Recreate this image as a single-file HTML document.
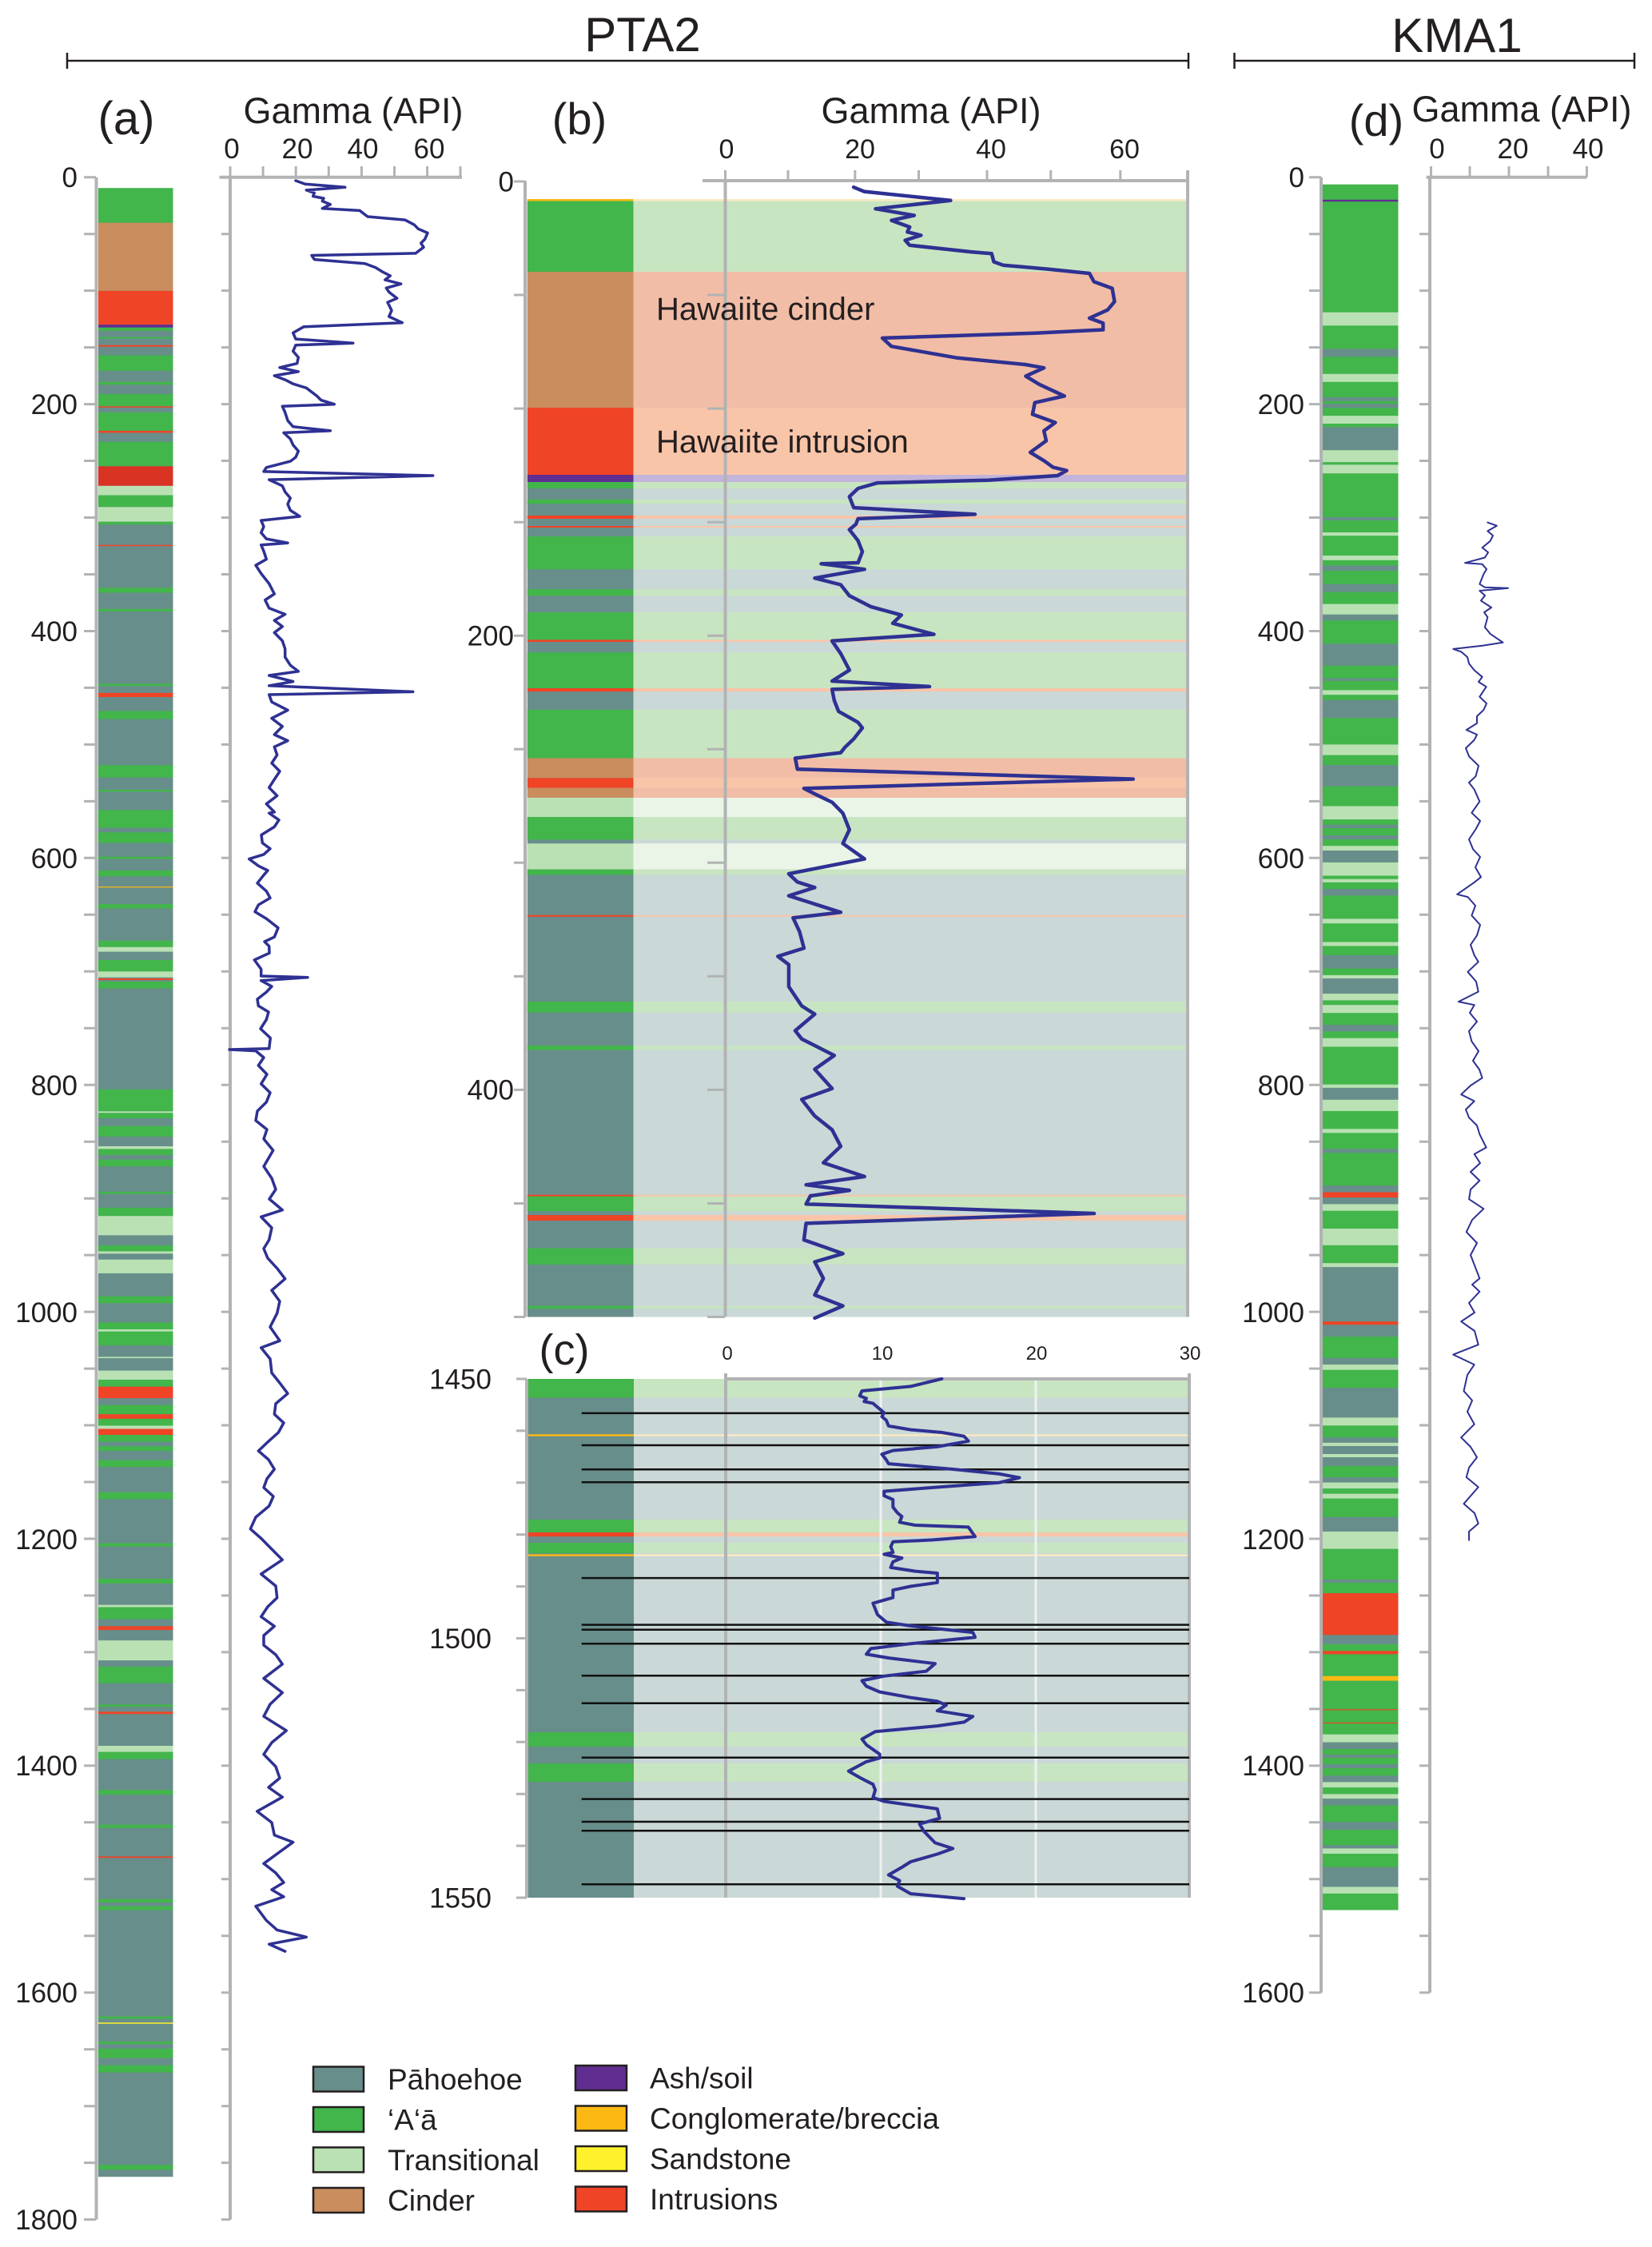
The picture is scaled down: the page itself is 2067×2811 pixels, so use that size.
<!DOCTYPE html>
<html><head><meta charset="utf-8"><style>
html,body{margin:0;padding:0;background:#fff}
svg{display:block}
text{font-family:"Liberation Sans",Arial,sans-serif;fill:#231f20}
.p{fill:#688e8b}.a{fill:#42b54b}.t{fill:#bae1b4}.c{fill:#c98d5e}.s{fill:#5f2e90}.o{fill:#fdb913}.y{fill:#fff22c}.i{fill:#ef4426}.i2{fill:#d93324}
.pp{fill:#cad8d7}.ap{fill:#c8e5c1}.tp{fill:#eaf5e8}.cp{fill:#f2bda6}.sp{fill:#c2b4da}.op{fill:#fde9c1}.ip{fill:#f9c5a9}
.ax{stroke:#b1b3b4;stroke-width:4;fill:none}
.tk{stroke:#b1b3b4;stroke-width:3;fill:none}
.gm{stroke:#2e3192;fill:none;stroke-linejoin:round;stroke-linecap:round}
</style></head><body>
<svg width="2067" height="2811" viewBox="0 0 2067 2811" xmlns="http://www.w3.org/2000/svg">
<rect width="2067" height="2811" fill="#fff"/>

<!-- Titles and brackets -->
<text x="804" y="64" font-size="60" text-anchor="middle">PTA2</text>
<text x="1823" y="65" font-size="60" text-anchor="middle">KMA1</text>
<path d="M84 76H1487M84 66V86M1487 66V86" stroke="#231f20" stroke-width="2.5" fill="none"/>
<path d="M1544.5 76H2045M1544.5 66V86M2045 66V86" stroke="#231f20" stroke-width="2.5" fill="none"/>

<!-- Panel labels -->
<text x="158" y="168" font-size="58" text-anchor="middle">(a)</text>
<text x="725" y="168" font-size="56" text-anchor="middle">(b)</text>
<text x="706" y="1707" font-size="54" text-anchor="middle">(c)</text>
<text x="1722" y="170" font-size="56" text-anchor="middle">(d)</text>

<text x="442" y="154" font-size="45" text-anchor="middle">Gamma (API)</text>
<text x="1165" y="154" font-size="45" text-anchor="middle">Gamma (API)</text>
<text x="1904" y="152" font-size="45" text-anchor="middle">Gamma (API)</text>

<!-- ================= PANEL (a) ================= -->
<g font-size="35" text-anchor="end">
<text x="97" y="234">0</text><text x="97" y="518">200</text><text x="97" y="802">400</text><text x="97" y="1086">600</text><text x="97" y="1370">800</text><text x="97" y="1654">1000</text><text x="97" y="1938">1200</text><text x="97" y="2221">1400</text><text x="97" y="2505">1600</text><text x="97" y="2789">1800</text>
</g>
<g font-size="35" text-anchor="middle">
<text x="290" y="198">0</text><text x="372" y="198">20</text><text x="454" y="198">40</text><text x="537" y="198">60</text>
</g>
<!-- bar a -->
<g transform="translate(123,0)">
<rect class="p" x="0" y="235.3" width="93.5" height="2487.9"/>
<rect class="a" x="0" y="235.3" width="93.5" height="43.4"/>
<rect class="c" x="0" y="278.7" width="93.5" height="85.2"/>
<rect class="i" x="0" y="363.9" width="93.5" height="42.3"/>
<rect class="s" x="0" y="406.2" width="93.5" height="3.6"/>
<rect class="a" x="0" y="409.8" width="93.5" height="4.1"/>
<rect class="a" x="0" y="421.5" width="93.5" height="2"/>
<rect class="i" x="0" y="431.7" width="93.5" height="2"/>
<rect class="a" x="0" y="444.5" width="93.5" height="19.4"/>
<rect class="a" x="0" y="477.7" width="93.5" height="3.5"/>
<rect class="a" x="0" y="493" width="93.5" height="15.3"/>
<rect class="i" x="0" y="508.3" width="93.5" height="1.5"/>
<rect class="a" x="0" y="515.9" width="93.5" height="23"/>
<rect class="i" x="0" y="538.9" width="93.5" height="2.5"/>
<rect class="a" x="0" y="552.7" width="93.5" height="30.6"/>
<rect class="i2" x="0" y="583.3" width="93.5" height="24.5"/>
<rect class="t" x="0" y="607.8" width="93.5" height="11.7"/>
<rect class="a" x="0" y="619.5" width="93.5" height="14.8"/>
<rect class="t" x="0" y="634.3" width="93.5" height="18.4"/>
<rect class="a" x="0" y="652.7" width="93.5" height="3.5"/>
<rect class="i" x="0" y="681.7" width="93.5" height="1.5"/>
<rect class="a" x="0" y="735.3" width="93.5" height="6.1"/>
<rect class="a" x="0" y="761.8" width="93.5" height="3.1"/>
<rect class="a" x="0" y="855.2" width="93.5" height="3"/>
<rect class="i" x="0" y="866.9" width="93.5" height="5.1"/>
<rect class="a" x="0" y="889.4" width="93.5" height="10.2"/>
<rect class="a" x="0" y="957.2" width="93.5" height="15.4"/>
<rect class="a" x="0" y="987.9" width="93.5" height="2.5"/>
<rect class="a" x="0" y="1013.4" width="93.5" height="22.2"/>
<rect class="a" x="0" y="1041.3" width="93.5" height="13.2"/>
<rect class="a" x="0" y="1071.8" width="93.5" height="2.8"/>
<rect class="a" x="0" y="1089" width="93.5" height="7.4"/>
<rect class="o" x="0" y="1109.1" width="93.5" height="1.2"/>
<rect class="a" x="0" y="1130.9" width="93.5" height="5.7"/>
<rect class="a" x="0" y="1176.8" width="93.5" height="8"/>
<rect class="t" x="0" y="1184.8" width="93.5" height="5.8"/>
<rect class="a" x="0" y="1200.9" width="93.5" height="14.4"/>
<rect class="t" x="0" y="1215.3" width="93.5" height="7.4"/>
<rect class="i" x="0" y="1224" width="93.5" height="2"/>
<rect class="a" x="0" y="1228" width="93.5" height="8.5"/>
<rect class="a" x="0" y="1362.8" width="93.5" height="27.5"/>
<rect class="t" x="0" y="1390.3" width="93.5" height="2"/>
<rect class="a" x="0" y="1392.3" width="93.5" height="6.7"/>
<rect class="a" x="0" y="1408.7" width="93.5" height="13.2"/>
<rect class="t" x="0" y="1434" width="93.5" height="3.4"/>
<rect class="a" x="0" y="1437.4" width="93.5" height="7.5"/>
<rect class="a" x="0" y="1450.6" width="93.5" height="8.6"/>
<rect class="a" x="0" y="1490.8" width="93.5" height="2.8"/>
<rect class="a" x="0" y="1510.9" width="93.5" height="10.3"/>
<rect class="t" x="0" y="1521.2" width="93.5" height="24.1"/>
<rect class="a" x="0" y="1557.9" width="93.5" height="7.5"/>
<rect class="t" x="0" y="1565.4" width="93.5" height="2.9"/>
<rect class="t" x="0" y="1575.7" width="93.5" height="17.2"/>
<rect class="a" x="0" y="1621.6" width="93.5" height="8.7"/>
<rect class="a" x="0" y="1654.4" width="93.5" height="8.6"/>
<rect class="t" x="0" y="1663" width="93.5" height="2.8"/>
<rect class="a" x="0" y="1665.8" width="93.5" height="17.3"/>
<rect class="t" x="0" y="1697.4" width="93.5" height="1.7"/>
<rect class="t" x="0" y="1714.6" width="93.5" height="11.5"/>
<rect class="a" x="0" y="1726.1" width="93.5" height="8.6"/>
<rect class="i" x="0" y="1734.7" width="93.5" height="14.4"/>
<rect class="a" x="0" y="1757.7" width="93.5" height="11.5"/>
<rect class="i" x="0" y="1769.2" width="93.5" height="5.7"/>
<rect class="a" x="0" y="1774.9" width="93.5" height="8.6"/>
<rect class="t" x="0" y="1783.5" width="93.5" height="4"/>
<rect class="i" x="0" y="1787.5" width="93.5" height="7.5"/>
<rect class="a" x="0" y="1795" width="93.5" height="8.6"/>
<rect class="a" x="0" y="1809.3" width="93.5" height="5.8"/>
<rect class="a" x="0" y="1826.6" width="93.5" height="8.6"/>
<rect class="a" x="0" y="1866.7" width="93.5" height="8.7"/>
<rect class="a" x="0" y="1930.5" width="93.5" height="4.1"/>
<rect class="a" x="0" y="1975" width="93.5" height="5.9"/>
<rect class="t" x="0" y="2007.7" width="93.5" height="2.9"/>
<rect class="a" x="0" y="2010.6" width="93.5" height="14.9"/>
<rect class="i" x="0" y="2034.4" width="93.5" height="4.7"/>
<rect class="t" x="0" y="2052.2" width="93.5" height="24.9"/>
<rect class="a" x="0" y="2084.9" width="93.5" height="20.7"/>
<rect class="a" x="0" y="2132.4" width="93.5" height="2.9"/>
<rect class="i" x="0" y="2141.3" width="93.5" height="2.9"/>
<rect class="t" x="0" y="2184" width="93.5" height="7.7"/>
<rect class="a" x="0" y="2191.7" width="93.5" height="9"/>
<rect class="a" x="0" y="2239.2" width="93.5" height="6"/>
<rect class="a" x="0" y="2282.6" width="93.5" height="4.2"/>
<rect class="i" x="0" y="2322.4" width="93.5" height="1.8"/>
<rect class="a" x="0" y="2375.8" width="93.5" height="4.2"/>
<rect class="a" x="0" y="2384.7" width="93.5" height="4.8"/>
<rect class="a" x="0" y="2522.5" width="93.5" height="3"/>
<rect class="y" x="0" y="2530.2" width="93.5" height="1.5"/>
<rect class="a" x="0" y="2554" width="93.5" height="3"/>
<rect class="a" x="0" y="2562.9" width="93.5" height="11.8"/>
<rect class="a" x="0" y="2583.6" width="93.5" height="9"/>
<rect class="a" x="0" y="2708.3" width="93.5" height="6"/>
</g>
<!-- axes a -->
<path class="ax" d="M120.5 221.7V2776.7"/>
<path class="tk" d="M105 221.7H120M105 292.7H120M105 363.6H120M105 434.6H120M105 505.6H120M105 576.5H120M105 647.5H120M105 718.5H120M105 789.5H120M105 860.4H120M105 931.4H120M105 1002.4H120M105 1073.3H120M105 1144.3H120M105 1215.3H120M105 1286.2H120M105 1357.2H120M105 1428.2H120M105 1499.2H120M105 1570.1H120M105 1641.1H120M105 1712.1H120M105 1783H120M105 1854H120M105 1925H120M105 1996H120M105 2066.9H120M105 2137.9H120M105 2208.9H120M105 2279.8H120M105 2350.8H120M105 2421.8H120M105 2492.7H120M105 2563.7H120M105 2634.7H120M105 2705.6H120M105 2776.6H120"/>
<path class="ax" d="M274.5 221.7H578M288 221.7V2776.7"/>
<path class="tk" d="M288 208V221.7M329.1 208V221.7M370.2 208V221.7M411.3 208V221.7M452.4 208V221.7M493.5 208V221.7M534.6 208V221.7M576 208V221.7"/>
<path class="tk" d="M277 292.7H288M277 363.6H288M277 434.6H288M277 505.6H288M277 576.5H288M277 647.5H288M277 718.5H288M277 789.5H288M277 860.4H288M277 931.4H288M277 1002.4H288M277 1073.3H288M277 1144.3H288M277 1215.3H288M277 1286.2H288M277 1357.2H288M277 1428.2H288M277 1499.2H288M277 1570.1H288M277 1641.1H288M277 1712.1H288M277 1783H288M277 1854H288M277 1925H288M277 1996H288M277 2066.9H288M277 2137.9H288M277 2208.9H288M277 2279.8H288M277 2350.8H288M277 2421.8H288M277 2492.7H288M277 2563.7H288M277 2634.7H288M277 2705.6H288M277 2776.6H288"/>
<polyline class="gm" stroke-width="3.5" points="370,226 381.7,230.2 431.7,234.3 383.3,237.9 393.3,241.4 391.7,245.5 405,248.1 403.3,251.6 413.3,255.7 403.3,260.8 450,263.4 456.7,268.5 460,271 506.7,275.1 518.3,281.2 523.3,286.3 535,291.4 531.7,299.1 526.7,304.2 530,309.3 523.3,314.4 520,316.9 390,319.5 393.3,324.6 456.7,329.7 470,334.8 478.3,339.9 488.3,345 481.7,350.1 501.7,355.2 483.3,360.3 486.7,365.4 496.7,373.1 485,378.2 490,388.4 486.7,396 503.3,403.7 380,408.8 366.7,416.4 370,424.1 441.7,429.2 370,431.7 366.7,439.4 373.3,447 371.7,454.7 350,459.8 373.3,464.9 343.3,470 356.7,475.1 366.7,480.2 383.3,485.3 396.7,495.5 401.7,500.6 418.3,505.7 353.3,508.3 356.7,515.9 360,526.1 366.7,533.8 413.3,538.9 355,541.4 363.3,549.1 366.7,556.7 373.3,564.4 370,572 363.3,577.1 333.3,584.8 330,589.9 541.7,595 336.7,600.1 353.3,607.8 356.7,615.4 363.3,623.1 360,630.7 363.3,638.4 375,646 326.7,651.1 330,658.8 326.7,666.4 333.3,674.1 360,679.2 326.7,681.7 330,689.4 333.3,699.6 320,707.2 326.7,717.4 336.7,730.2 343.3,743 331.7,750.6 336.7,760.8 356.7,768.5 343.3,776.1 353.3,783.8 343.3,791.4 353.3,801.6 356.7,811.8 356.7,822 363.3,832.2 373.3,839.9 336.7,845 366.7,852.6 336.7,857.8 516.7,865.4 336.7,869 340,878.2 360,888.4 340,898.6 353.3,908.8 343.3,919 360,926.6 343.3,934.3 346.7,944.5 340,954.7 350,964.9 343.3,975.1 336.7,985.3 346.7,995.5 333.3,1005.7 343.3,1015.9 336.7,1017.2 349,1025.8 343.3,1034.4 327,1044.5 328.3,1054.5 338,1061.7 330,1068.9 311.7,1074.6 323.3,1083.2 335,1089 330,1094.7 322,1104.8 333.3,1114.8 338,1123.4 323.3,1132 319,1140.6 333.3,1149.2 348,1160.7 343.3,1172.2 331,1178 336.7,1183.7 337,1192.3 318.3,1200.9 326.7,1212.4 326.7,1221 385,1222.7 326.7,1226.7 340,1234 333.3,1241.1 322,1250 323.3,1258.3 336,1266 333.3,1275.5 326,1287 338.3,1298.5 336.7,1311.7 287,1313 320,1314.6 330,1323 323.3,1332.9 334,1344 326.7,1355.9 338,1367 333.3,1378.8 322,1390 320,1401.8 334,1413 330,1424.8 341.7,1439.1 330,1459.2 340,1474 345,1487.9 337,1500 353.3,1513.7 326.7,1522.3 340,1536 336.7,1551 330,1562 335,1574 347,1587 356.7,1599.8 340,1614.2 350,1628 346.7,1642.9 338,1660 350,1677.3 326.7,1686 338,1700 340,1717.5 350,1730 360,1743.3 345,1756 343.3,1769.2 355,1780 348.3,1792.1 335,1804 323.3,1815.1 336,1826 343.3,1838 334,1850 330,1861 342,1872 336.7,1884 320,1898 313.3,1912.7 326.7,1924.5 340,1938 353.3,1951.3 326.7,1969.1 345,1984 346.7,1998.8 335,2010 326.7,2022.5 343.3,2034.4 330,2046 330,2058.1 345,2070 353.3,2081.9 330,2099.7 353.3,2117.5 338,2132 330,2147.2 358.3,2165 340,2180 330,2194.7 345,2210 350,2224.4 336,2236 353.3,2248.2 321.7,2266 340,2280 343.3,2295.7 366.7,2304.6 330,2331.3 345,2343 355,2355 340,2364 355,2372.9 320,2384.7 333.3,2402.5 346.7,2414.4 383.3,2423.3 336.7,2432.2 356.7,2441.1"/>

<!-- ================= PANEL (b) ================= -->
<g>
<rect class="p" x="659.8" y="250.8" width="132.7" height="1396.7"/>
<rect class="pp" x="792.5" y="250.8" width="693.5" height="1396.7"/>
<rect class="o" x="659.8" y="249" width="132.7" height="2.5"/><rect class="op" x="792.5" y="249" width="693.5" height="2.5"/>
<rect class="a" x="659.8" y="251.5" width="132.7" height="88.5"/><rect class="ap" x="792.5" y="251.5" width="693.5" height="88.5"/>
<rect class="c" x="659.8" y="340" width="132.7" height="170"/><rect class="cp" x="792.5" y="340" width="693.5" height="170"/>
<rect class="i" x="659.8" y="510" width="132.7" height="84"/><rect class="ip" x="792.5" y="510" width="693.5" height="84"/>
<rect class="s" x="659.8" y="594" width="132.7" height="9"/><rect class="sp" x="792.5" y="594" width="693.5" height="9"/>
<rect class="a" x="659.8" y="603" width="132.7" height="8"/><rect class="ap" x="792.5" y="603" width="693.5" height="8"/>
<rect class="a" x="659.8" y="624.8" width="132.7" height="5.5"/><rect class="ap" x="792.5" y="624.8" width="693.5" height="5.5"/>
<rect class="i" x="659.8" y="645" width="132.7" height="4"/><rect class="ip" x="792.5" y="645" width="693.5" height="4"/>
<rect class="i" x="659.8" y="658" width="132.7" height="2"/><rect class="ip" x="792.5" y="658" width="693.5" height="2"/>
<rect class="a" x="659.8" y="671" width="132.7" height="41.2"/><rect class="ap" x="792.5" y="671" width="693.5" height="41.2"/>
<rect class="a" x="659.8" y="737" width="132.7" height="8.3"/><rect class="ap" x="792.5" y="737" width="693.5" height="8.3"/>
<rect class="a" x="659.8" y="766" width="132.7" height="34.4"/><rect class="ap" x="792.5" y="766" width="693.5" height="34.4"/>
<rect class="i" x="659.8" y="800.4" width="132.7" height="2.6"/><rect class="ip" x="792.5" y="800.4" width="693.5" height="2.6"/>
<rect class="a" x="659.8" y="816.2" width="132.7" height="44.8"/><rect class="ap" x="792.5" y="816.2" width="693.5" height="44.8"/>
<rect class="i" x="659.8" y="861" width="132.7" height="4.1"/><rect class="ip" x="792.5" y="861" width="693.5" height="4.1"/>
<rect class="a" x="659.8" y="887.9" width="132.7" height="60.6"/><rect class="ap" x="792.5" y="887.9" width="693.5" height="60.6"/>
<rect class="c" x="659.8" y="948.5" width="132.7" height="24.8"/><rect class="cp" x="792.5" y="948.5" width="693.5" height="24.8"/>
<rect class="i" x="659.8" y="973.3" width="132.7" height="12.3"/><rect class="ip" x="792.5" y="973.3" width="693.5" height="12.3"/>
<rect class="c" x="659.8" y="985.6" width="132.7" height="12.4"/><rect class="cp" x="792.5" y="985.6" width="693.5" height="12.4"/>
<rect class="t" x="659.8" y="998" width="132.7" height="24.1"/><rect class="tp" x="792.5" y="998" width="693.5" height="24.1"/>
<rect class="a" x="659.8" y="1022.1" width="132.7" height="28.3"/><rect class="ap" x="792.5" y="1022.1" width="693.5" height="28.3"/>
<rect class="t" x="659.8" y="1055.2" width="132.7" height="32.4"/><rect class="tp" x="792.5" y="1055.2" width="693.5" height="32.4"/>
<rect class="a" x="659.8" y="1087.6" width="132.7" height="6.9"/><rect class="ap" x="792.5" y="1087.6" width="693.5" height="6.9"/>
<rect class="i" x="659.8" y="1144.7" width="132.7" height="2.1"/><rect class="ip" x="792.5" y="1144.7" width="693.5" height="2.1"/>
<rect class="a" x="659.8" y="1252.9" width="132.7" height="13.7"/><rect class="ap" x="792.5" y="1252.9" width="693.5" height="13.7"/>
<rect class="a" x="659.8" y="1308" width="132.7" height="5.5"/><rect class="ap" x="792.5" y="1308" width="693.5" height="5.5"/>
<rect class="i" x="659.8" y="1494.6" width="132.7" height="2.1"/><rect class="ip" x="792.5" y="1494.6" width="693.5" height="2.1"/>
<rect class="a" x="659.8" y="1496.7" width="132.7" height="18.6"/><rect class="ap" x="792.5" y="1496.7" width="693.5" height="18.6"/>
<rect class="i" x="659.8" y="1520" width="132.7" height="7"/><rect class="ip" x="792.5" y="1520" width="693.5" height="7"/>
<rect class="a" x="659.8" y="1561.4" width="132.7" height="20.6"/><rect class="ap" x="792.5" y="1561.4" width="693.5" height="20.6"/>
<rect class="a" x="659.8" y="1633.7" width="132.7" height="3.5"/><rect class="ap" x="792.5" y="1633.7" width="693.5" height="3.5"/>
</g>
<g font-size="35" text-anchor="end">
<text x="643" y="239.5">0</text><text x="643" y="807.5">200</text><text x="643" y="1375.5">400</text>
</g>
<g font-size="34" text-anchor="middle">
<text x="909" y="198">0</text><text x="1076" y="198">20</text><text x="1240" y="198">40</text><text x="1407" y="198">60</text>
</g>
<path class="ax" d="M657 226V1647.5"/>
<path class="tk" d="M643 227H657M643 369H657M643 511.1H657M643 653.2H657M643 795.2H657M643 937.3H657M643 1079.3H657M643 1221.4H657M643 1363.4H657M643 1505.5H657M643 1647.5H657"/>
<path class="ax" d="M879 226H1486M907.5 226V1647.5M1486 213V1647.5"/>
<path class="tk" d="M907.5 213V226M986 213V226M1069.8 213V226M1149.5 213V226M1235 213V226M1314.7 213V226M1401.8 213V226"/>
<path class="tk" d="M885 369H907M885 511.1H907M885 653.2H907M885 795.2H907M885 937.3H907M885 1079.3H907M885 1221.4H907M885 1363.4H907M885 1505.5H907M885 1647.5H907"/>
<text x="821" y="400" font-size="40">Hawaiite cinder</text>
<text x="821" y="566" font-size="40">Hawaiite intrusion</text>
<polyline class="gm" stroke-width="4.5" points="1068.1,234.2 1078.4,238.4 1081.2,239.6 1189.4,250.8 1095.5,261.2 1143.9,269.5 1115.4,275.7 1138.2,284 1135.3,290.2 1152.4,294.4 1132.5,300.6 1138.2,306.8 1215.1,315.1 1240.7,317.2 1243.5,327.5 1254.9,331.7 1311.9,336.7 1363.1,342 1368.8,352.4 1391.6,360.7 1394.5,377.3 1385.9,387.7 1363.1,398 1380.2,404.2 1380.2,412.5 1294.8,416.7 1104,422.9 1115.4,433.3 1198,447.8 1283.4,456.1 1306.2,460.2 1283.4,470.6 1300.5,480.9 1331.8,495.4 1294.8,503.7 1291.9,518.3 1320.4,528.6 1306.2,539 1309,551.4 1289.1,565.9 1306.2,576.3 1317.6,584.6 1334.6,588.7 1323.2,595 1236.2,600.7 1098,604.1 1073.6,611 1062.8,621.3 1068.2,635.1 1219.9,643.4 1073.6,648.9 1070.9,655.8 1062.8,662.6 1073.6,676.4 1079,690.2 1073.6,704 1027.5,705.3 1081.7,712.2 1019.4,723.2 1051.9,731.5 1062.8,745.3 1089.9,759.1 1127.8,769.4 1117,779.7 1168.5,793.5 1041.1,801.8 1051.9,817.6 1062.8,838.3 1041.1,852 1163,858.9 1041.1,862.4 1043.8,876.1 1049.2,889.9 1073.6,903.7 1079,910.6 1068.2,924.4 1057.3,934.7 1051.9,941.6 995,948.5 997.7,962.2 1417.8,974.6 1005.9,986.3 1019.4,993.2 1041.1,1003.6 1054.6,1017.3 1062.8,1038 1054.6,1055.2 1081.7,1074.5 986.9,1093.1 997.7,1103.4 1019.4,1110.3 986.9,1120.6 1051.9,1141.3 992.3,1148.2 1000.4,1165.4 1005.9,1186.1 973.3,1196.4 986.9,1206.7 986.9,1234.3 1003.1,1258.4 1019.4,1268.7 995,1289.4 1003.1,1299.7 1043.8,1320.4 1019.4,1337.6 1041.1,1361.7 1003.1,1375.4 1019.4,1396.1 1041.1,1413.3 1051.9,1434 1030.2,1454.6 1081.7,1471.9 1008.6,1482.2 1062.8,1489.1 1014,1496 1008.6,1506.3 1369,1518 1008.6,1530.4 1005.9,1551.1 1054.6,1568.3 1019.4,1578.6 1030.2,1599.3 1019.4,1620 1054.6,1633.7 1019.4,1648.9"/>

<!-- ================= PANEL (c) ================= -->
<g>
<rect class="p" x="660" y="1725" width="133" height="649"/>
<rect class="pp" x="793" y="1725" width="693" height="649"/>
<rect class="a" x="660" y="1725" width="133" height="23.5"/><rect class="ap" x="793" y="1725" width="693" height="23.5"/>
<rect class="o" x="660" y="1794.3" width="133" height="2.4"/><rect class="op" x="793" y="1794.3" width="693" height="2.4"/>
<rect class="a" x="660" y="1901" width="133" height="16"/><rect class="ap" x="793" y="1901" width="693" height="16"/>
<rect class="i" x="660" y="1917" width="133" height="5.2"/><rect class="ip" x="793" y="1917" width="693" height="5.2"/>
<rect class="a" x="660" y="1930" width="133" height="13"/><rect class="ap" x="793" y="1930" width="693" height="13"/>
<rect class="o" x="660" y="1944.4" width="133" height="2.4"/><rect class="op" x="793" y="1944.4" width="693" height="2.4"/>
<rect class="a" x="660" y="2167" width="133" height="18"/><rect class="ap" x="793" y="2167" width="693" height="18"/>
<rect class="a" x="660" y="2206" width="133" height="23"/><rect class="ap" x="793" y="2206" width="693" height="23"/>
</g>
<path d="M1102 1725V2374M1296 1725V2374" stroke="#eef2f2" stroke-width="3"/>
<path class="ax" d="M908 1718V2374M908 1725H1488M1488 1718V2374"/>
<path class="ax" d="M659 1725V2374"/>
<path class="tk" d="M646 1725H659M646 1789.9H659M646 1854.8H659M646 1919.7H659M646 1984.6H659M646 2049.5H659M646 2114.4H659M646 2179.3H659M646 2244.2H659M646 2309.1H659M646 2374H659"/>
<g font-size="35" text-anchor="end">
<text x="615" y="1737.5">1450</text><text x="615" y="2062">1500</text><text x="615" y="2386.5">1550</text>
</g>
<g font-size="24" text-anchor="middle">
<text x="910" y="1701">0</text><text x="1104" y="1701">10</text><text x="1297" y="1701">20</text><text x="1489" y="1701">30</text>
</g>
<path d="M727.7 1767.9H1488M727.7 1808H1488M727.7 1838.2H1488M727.7 1854.3H1488M727.7 1974.1H1488M727.7 2032.6H1488M727.7 2038.8H1488M727.7 2056.2H1488M727.7 2096.3H1488M727.7 2130.8H1488M727.7 2198.8H1488M727.7 2250.6H1488M727.7 2279H1488M727.7 2290.3H1488M727.7 2357.3H1488" stroke="#111" stroke-width="2.5"/>
<polyline class="gm" stroke-width="4" points="1178.3,1724.9 1139.5,1734.4 1078.5,1740 1075.7,1746.2 1084,1749.5 1081.2,1753.3 1092.3,1755.6 1100.7,1762.7 1106.2,1767.4 1103.4,1772.1 1109,1776.9 1111.8,1783.9 1139.5,1788.6 1178.3,1792 1206.1,1796.7 1211.7,1802.8 1172.8,1809.9 1117.3,1814.6 1103.4,1819.3 1109,1826.4 1111.8,1831.1 1139.5,1833.5 1195,1838.2 1250.5,1843.9 1275.5,1848.6 1250.5,1854.7 1167.3,1860.9 1106.2,1865.6 1106.2,1871.2 1117.3,1876 1117.3,1885.4 1122.8,1892.5 1128.4,1897.2 1125.6,1904.3 1145,1908 1211.7,1910.4 1217.2,1918.4 1220,1922.2 1167.3,1926.4 1117.3,1928.8 1114.5,1934.9 1117.3,1942 1106.2,1944.4 1128.4,1949.1 1117.3,1953.8 1114.5,1960.9 1145,1965.6 1172.8,1968 1172.8,1979.8 1139.5,1984.5 1117.3,1989.2 1117.3,1998.6 1092.3,2005.7 1095.1,2012.8 1097.9,2019.9 1109,2029.3 1139.5,2034 1217.2,2042.1 1220,2048.2 1139.5,2056.2 1089.6,2062.4 1084,2069.4 1111.8,2074.1 1170,2081.2 1158.9,2090.7 1106.2,2096.8 1078.5,2102.5 1084,2109.5 1100.7,2116.6 1139.5,2123.7 1172.8,2128.4 1183.9,2133.1 1172.8,2140.2 1217.2,2147.3 1206.1,2154.4 1172.8,2159.1 1095.1,2166.2 1078.5,2175.6 1084,2182.7 1100.7,2194.5 1100.7,2199.2 1084,2203.9 1061.8,2215.7 1078.5,2225.2 1092.3,2232.2 1095.1,2239.3 1092.3,2248.8 1106.2,2253.5 1172.8,2262.9 1175.6,2274.7 1150.6,2281.8 1156.2,2291.2 1170,2305.4 1192.2,2312.5 1172.8,2319.5 1139.5,2329 1128.4,2336 1111.8,2345.5 1125.6,2352.6 1122.8,2359.6 1139.5,2369.1 1206.1,2375.2"/>

<!-- ================= PANEL (d) ================= -->
<g font-size="35" text-anchor="end">
<text x="1632" y="234">0</text><text x="1632" y="518">200</text><text x="1632" y="802">400</text><text x="1632" y="1086">600</text><text x="1632" y="1370">800</text><text x="1632" y="1654">1000</text><text x="1632" y="1938">1200</text><text x="1632" y="2221">1400</text><text x="1632" y="2505">1600</text>
</g>
<g font-size="35" text-anchor="middle">
<text x="1798" y="198">0</text><text x="1893" y="198">20</text><text x="1987" y="198">40</text>
</g>
<g transform="translate(1654.7,0)">
<rect class="a" x="0" y="230.7" width="94.8" height="2158.8"/>
<rect class="s" x="0" y="249.8" width="94.8" height="2.4"/>
<rect class="t" x="0" y="390.7" width="94.8" height="16.6"/>
<rect class="p" x="0" y="436.3" width="94.8" height="10"/>
<rect class="t" x="0" y="467.8" width="94.8" height="10"/>
<rect class="p" x="0" y="496.9" width="94.8" height="4.9"/>
<rect class="p" x="0" y="505.1" width="94.8" height="5"/>
<rect class="t" x="0" y="520.1" width="94.8" height="9.9"/>
<rect class="p" x="0" y="534.2" width="94.8" height="29"/>
<rect class="t" x="0" y="563.2" width="94.8" height="14.9"/>
<rect class="t" x="0" y="581.4" width="94.8" height="10.8"/>
<rect class="p" x="0" y="647" width="94.8" height="4"/>
<rect class="t" x="0" y="666" width="94.8" height="4.2"/>
<rect class="t" x="0" y="695" width="94.8" height="5.8"/>
<rect class="p" x="0" y="707.5" width="94.8" height="6.6"/>
<rect class="p" x="0" y="730.7" width="94.8" height="9.9"/>
<rect class="t" x="0" y="755.6" width="94.8" height="13.2"/>
<rect class="p" x="0" y="768.8" width="94.8" height="7.5"/>
<rect class="p" x="0" y="805.3" width="94.8" height="27.4"/>
<rect class="p" x="0" y="848.4" width="94.8" height="3.4"/>
<rect class="t" x="0" y="863.4" width="94.8" height="5.8"/>
<rect class="p" x="0" y="875.8" width="94.8" height="22.4"/>
<rect class="t" x="0" y="931.4" width="94.8" height="13.2"/>
<rect class="p" x="0" y="957.1" width="94.8" height="26.5"/>
<rect class="t" x="0" y="1008.5" width="94.8" height="16.6"/>
<rect class="p" x="0" y="1031.7" width="94.8" height="4.3"/>
<rect class="p" x="0" y="1045" width="94.8" height="5"/>
<rect class="t" x="0" y="1058.2" width="94.8" height="5.8"/>
<rect class="p" x="0" y="1064" width="94.8" height="14.9"/>
<rect class="t" x="0" y="1078.9" width="94.8" height="16.6"/>
<rect class="t" x="0" y="1099.7" width="94.8" height="4.1"/>
<rect class="p" x="0" y="1112.1" width="94.8" height="8.3"/>
<rect class="t" x="0" y="1149.4" width="94.8" height="5.8"/>
<rect class="t" x="0" y="1178.5" width="94.8" height="4.9"/>
<rect class="p" x="0" y="1195" width="94.8" height="16.6"/>
<rect class="t" x="0" y="1219.9" width="94.8" height="4.1"/>
<rect class="p" x="0" y="1224" width="94.8" height="19.1"/>
<rect class="t" x="0" y="1243.1" width="94.8" height="8.3"/>
<rect class="t" x="0" y="1257.2" width="94.8" height="10"/>
<rect class="p" x="0" y="1282.1" width="94.8" height="8.3"/>
<rect class="t" x="0" y="1298.7" width="94.8" height="10.8"/>
<rect class="t" x="0" y="1356.7" width="94.8" height="4.2"/>
<rect class="p" x="0" y="1360.9" width="94.8" height="14.9"/>
<rect class="t" x="0" y="1375.8" width="94.8" height="14.1"/>
<rect class="t" x="0" y="1412.3" width="94.8" height="5"/>
<rect class="p" x="0" y="1437.2" width="94.8" height="4.9"/>
<rect class="p" x="0" y="1483" width="94.8" height="8.5"/>
<rect class="i" x="0" y="1491.5" width="94.8" height="6.5"/>
<rect class="p" x="0" y="1498" width="94.8" height="8.4"/>
<rect class="t" x="0" y="1506.4" width="94.8" height="8.3"/>
<rect class="t" x="0" y="1537" width="94.8" height="20.8"/>
<rect class="t" x="0" y="1580.2" width="94.8" height="5"/>
<rect class="p" x="0" y="1585.2" width="94.8" height="68"/>
<rect class="i" x="0" y="1653.2" width="94.8" height="4.1"/>
<rect class="p" x="0" y="1657.3" width="94.8" height="14.9"/>
<rect class="p" x="0" y="1698.8" width="94.8" height="8.3"/>
<rect class="t" x="0" y="1707.1" width="94.8" height="6.6"/>
<rect class="p" x="0" y="1736.1" width="94.8" height="37.3"/>
<rect class="t" x="0" y="1773.4" width="94.8" height="9.9"/>
<rect class="p" x="0" y="1798.3" width="94.8" height="6.6"/>
<rect class="t" x="0" y="1804.9" width="94.8" height="4.1"/>
<rect class="p" x="0" y="1809" width="94.8" height="10"/>
<rect class="t" x="0" y="1819" width="94.8" height="4.1"/>
<rect class="p" x="0" y="1823.1" width="94.8" height="10.8"/>
<rect class="p" x="0" y="1848" width="94.8" height="6.6"/>
<rect class="t" x="0" y="1854.6" width="94.8" height="7.5"/>
<rect class="t" x="0" y="1868.7" width="94.8" height="5.9"/>
<rect class="p" x="0" y="1897.8" width="94.8" height="18.2"/>
<rect class="t" x="0" y="1916" width="94.8" height="21.6"/>
<rect class="p" x="0" y="1976" width="94.8" height="4"/>
<rect class="i" x="0" y="1993.1" width="94.8" height="52.3"/>
<rect class="p" x="0" y="2045.4" width="94.8" height="11.6"/>
<rect class="i" x="0" y="2065.3" width="94.8" height="4.1"/>
<rect class="o" x="0" y="2096.8" width="94.8" height="5.8"/>
<rect class="i" x="0" y="2138.2" width="94.8" height="1.2"/>
<rect class="i" x="0" y="2154.8" width="94.8" height="1.2"/>
<rect class="t" x="0" y="2169.7" width="94.8" height="10"/>
<rect class="p" x="0" y="2179.7" width="94.8" height="8.3"/>
<rect class="p" x="0" y="2195" width="94.8" height="4"/>
<rect class="p" x="0" y="2207" width="94.8" height="5"/>
<rect class="p" x="0" y="2221.2" width="94.8" height="8.2"/>
<rect class="t" x="0" y="2229.4" width="94.8" height="6.7"/>
<rect class="t" x="0" y="2244.4" width="94.8" height="5.8"/>
<rect class="p" x="0" y="2250.2" width="94.8" height="8.3"/>
<rect class="p" x="0" y="2279.2" width="94.8" height="9.9"/>
<rect class="p" x="0" y="2308.2" width="94.8" height="4.2"/>
<rect class="t" x="0" y="2312.4" width="94.8" height="6.6"/>
<rect class="p" x="0" y="2335.6" width="94.8" height="24.9"/>
<rect class="t" x="0" y="2360.5" width="94.8" height="8.3"/>
</g>
<path class="ax" d="M1653 221.7V2492.7"/>
<path class="tk" d="M1638 221.7H1653M1638 292.7H1653M1638 363.6H1653M1638 434.6H1653M1638 505.6H1653M1638 576.5H1653M1638 647.5H1653M1638 718.5H1653M1638 789.5H1653M1638 860.4H1653M1638 931.4H1653M1638 1002.4H1653M1638 1073.3H1653M1638 1144.3H1653M1638 1215.3H1653M1638 1286.2H1653M1638 1357.2H1653M1638 1428.2H1653M1638 1499.2H1653M1638 1570.1H1653M1638 1641.1H1653M1638 1712.1H1653M1638 1783H1653M1638 1854H1653M1638 1925H1653M1638 1996H1653M1638 2066.9H1653M1638 2137.9H1653M1638 2208.9H1653M1638 2279.8H1653M1638 2350.8H1653M1638 2421.8H1653M1638 2492.7H1653"/>
<path class="ax" d="M1784.6 221.7H1985.4M1789 221.7V2492.7"/>
<path class="tk" d="M1790.5 208V221.7M1839 208V221.7M1888 208V221.7M1937 208V221.7M1985.4 208V221.7"/>
<path class="tk" d="M1776 292.7H1789M1776 363.6H1789M1776 434.6H1789M1776 505.6H1789M1776 576.5H1789M1776 647.5H1789M1776 718.5H1789M1776 789.5H1789M1776 860.4H1789M1776 931.4H1789M1776 1002.4H1789M1776 1073.3H1789M1776 1144.3H1789M1776 1215.3H1789M1776 1286.2H1789M1776 1357.2H1789M1776 1428.2H1789M1776 1499.2H1789M1776 1570.1H1789M1776 1641.1H1789M1776 1712.1H1789M1776 1783H1789M1776 1854H1789M1776 1925H1789M1776 1996H1789M1776 2066.9H1789M1776 2137.9H1789M1776 2208.9H1789M1776 2279.8H1789M1776 2350.8H1789M1776 2421.8H1789M1776 2492.7H1789"/>
<polyline class="gm" stroke-width="2" points="1861.3,653.6 1872.8,657.7 1861.3,664.4 1868,670 1864.6,676.8 1854.6,685.1 1862,691 1857.9,697.5 1833.1,704.2 1854.6,705.8 1860,712 1856.3,718.3 1851.3,730.7 1857.9,734.8 1887,735.7 1851.3,739 1858,745 1853,751.4 1866,760 1857,766 1861.3,772.1 1857.9,784.6 1864.6,792.9 1880.4,803.7 1854.6,807.8 1818.3,811.9 1828.2,815.3 1836,822 1838.1,830.2 1844.7,838.5 1854.6,846.8 1850,853 1859.6,859.2 1851.3,871.7 1860,880 1856.3,888.2 1848,896 1848,904.8 1834.8,913.1 1848,919 1844.7,925.6 1834,936 1838.1,946.3 1850,958 1846.4,971.2 1838,979 1844.7,987.7 1851.3,1002.7 1841.4,1016.8 1852,1027 1846.4,1037.5 1838,1050 1843.1,1062.4 1852,1072 1846,1085 1853,1097.2 1844.7,1103.8 1823.2,1118.8 1836.5,1122.1 1846,1133 1841.4,1145.3 1852,1157 1848,1170.2 1840,1182 1844.7,1195 1849.7,1203.3 1836.5,1215.8 1847,1228 1849.7,1240.6 1824.9,1253.1 1844.7,1257.2 1839,1267 1848,1278 1838,1290 1841.4,1302.8 1850,1315 1843,1327 1851,1338 1854.6,1348.4 1840,1358 1828.2,1369.2 1844.7,1377.5 1834,1388 1838.1,1398.2 1848,1408 1851.3,1418.9 1859.6,1435.5 1844.7,1443.8 1852,1455 1840,1466 1851.3,1477 1840,1488 1838.1,1500.2 1856.3,1512.2 1842,1526 1834.8,1541.2 1848,1555 1840,1570 1851.3,1599.3 1842,1607 1851.3,1615.8 1838,1630 1845,1642 1828.2,1653.2 1845,1665 1849.7,1682.2 1818.3,1694.6 1844.7,1707.1 1836,1720 1831.5,1740.2 1842,1752 1836,1766 1844.7,1781.7 1828.2,1798.3 1840,1810 1848,1823.1 1838,1836 1834.8,1848 1849.7,1860.4 1831.5,1881.2 1845,1893 1849.7,1906 1838,1916 1838.1,1926.8"/>

<!-- ================= LEGEND ================= -->
<g stroke="#231f20" stroke-width="2.5">
<rect class="p" x="392" y="2585.5" width="63" height="31"/>
<rect class="a" x="392" y="2636" width="63" height="31"/>
<rect class="t" x="392" y="2686.4" width="63" height="31"/>
<rect class="c" x="392" y="2737" width="63" height="31"/>
<rect class="s" x="720" y="2584" width="64" height="31"/>
<rect class="o" x="720" y="2634.5" width="64" height="31"/>
<rect class="y" x="720" y="2685" width="64" height="31"/>
<rect class="i" x="720" y="2735.5" width="64" height="31"/>
</g>
<g font-size="37">
<text x="485" y="2614">Pāhoehoe</text>
<text x="485" y="2664.5">‘A‘ā</text>
<text x="485" y="2715">Transitional</text>
<text x="485" y="2765.5">Cinder</text>
<text x="813" y="2612.5">Ash/soil</text>
<text x="813" y="2663">Conglomerate/breccia</text>
<text x="813" y="2713.5">Sandstone</text>
<text x="813" y="2764">Intrusions</text>
</g>
</svg>
</body></html>
